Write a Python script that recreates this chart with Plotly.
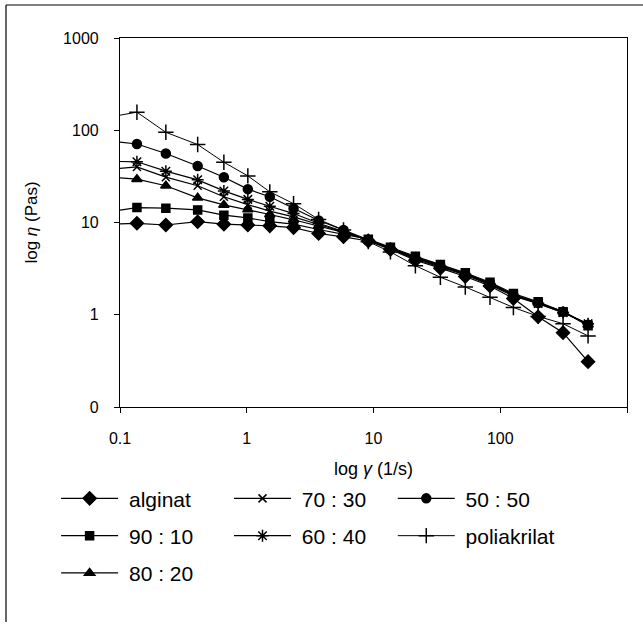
import plotly.graph_objects as go

# shear rate (1/s)
shear_rate = [0.085, 0.136, 0.23, 0.41, 0.66, 1.02, 1.52, 2.34, 3.69, 5.8, 9.1,
              13.6, 21.4, 33.7, 53, 83, 127, 199, 313, 493]

alginat = [9.6, 9.8, 9.4, 10.2, 9.6, 9.4, 9.2, 8.8, 7.6, 7.0, 6.3,
           5.1, 3.9, 3.2, 2.6, 2.05, 1.5, 0.95, 0.64, 0.31]
s90_10 = [13.2, 14.5, 14.3, 13.7, 12.0, 11.2, 10.2, 9.6, 8.4, 7.4, 6.6,
          5.4, 4.3, 3.5, 2.85, 2.25, 1.7, 1.38, 1.08, 0.76]
s80_20 = [31, 29.5, 25, 18.5, 15.5, 13.8, 12.2, 10.7, 9.2, 7.8, 6.5,
          5.3, 4.2, 3.45, 2.8, 2.2, 1.65, 1.35, 1.08, 0.78]
s70_30 = [38, 40, 31, 25, 19, 15.6, 13.3, 11.5, 9.5, 7.9, 6.4,
          5.2, 4.0, 3.3, 2.7, 2.1, 1.6, 1.32, 1.05, 0.8]
s60_40 = [46, 45.5, 36, 29, 22, 17.8, 15, 12.5, 9.8, 8.0, 6.5,
          5.2, 4.1, 3.35, 2.75, 2.15, 1.62, 1.33, 1.06, 0.8]
s50_50 = [76, 71, 56, 41, 31, 23, 19, 14.2, 10.5, 8.3, 6.5,
          5.2, 4.1, 3.4, 2.75, 2.2, 1.64, 1.34, 1.08, 0.78]
poliakrilat = [140, 157, 95, 70, 45, 32, 21.5, 16, 10.8, 8.3, 6.2,
               4.8, 3.4, 2.55, 2.0, 1.55, 1.2, 0.96, 0.8, 0.59]

x_ticks = [0.1, 1, 10, 100, 1000]
x_ticktext = ["0.1", "1", "10", "100", "1000"]
y_ticks = [0.1, 1, 10, 100, 1000]
y_ticktext = ["0", "1", "10", "100", "1000"]

FONT = "Liberation Sans, Arial, sans-serif"
NB = "\u00a0"

series = [
    ("alginat", alginat, "diamond", 10, 1.2, "legend"),
    ("70 : 30", s70_30, "x-thin", 8, 1.2, "legend2"),
    ("50 : 50", s50_50, "circle", 9, 1.2, "legend3"),
    ("90 : 10", s90_10, "square", 8, 1.2, "legend"),
    ("60 : 40", s60_40, "asterisk", 10, 1.2, "legend2"),
    ("poliakrilat", poliakrilat, "cross-thin", 11, 1.0, "legend3"),
    ("80 : 20", s80_20, "triangle-up", 9, 1.2, "legend"),
]

fig = go.Figure()
for name, vals, sym, size, lw, leg in series:
    fig.add_trace(go.Scatter(
        x=shear_rate, y=vals, name=NB + name, mode="lines+markers",
        line=dict(color="black", width=lw),
        marker=dict(symbol=sym, size=size, color="black",
                    line=dict(color="black", width=1.5)),
        legend=leg, legendgroup=name,
    ))

legend_common = dict(
    orientation="v", yanchor="top", xanchor="left",
    font=dict(family=FONT, size=21, color="black"),
    bgcolor="rgba(0,0,0,0)", itemwidth=57, tracegroupgap=7,
)

fig.update_layout(
    width=643, height=629,
    margin=dict(l=120, r=16, t=38, b=222),
    paper_bgcolor="white", plot_bgcolor="white",
    font=dict(family=FONT, size=15, color="black"),
    legend=dict(x=-0.126, y=-0.193, **legend_common),
    legend2=dict(x=0.215, y=-0.193, **legend_common),
    legend3=dict(x=0.538, y=-0.193, **legend_common),
    xaxis=dict(
        type="log", range=[-1, 3], tickvals=x_ticks, ticktext=x_ticktext,
        ticks="outside", ticklen=5, tickcolor="black",
        showline=True, linecolor="black", linewidth=1.2, mirror=True,
        showgrid=False, zeroline=False, ticklabelstandoff=12,
        tickfont=dict(size=16),
        title=dict(text="log <i>γ</i> (1/s)", font=dict(size=18), standoff=16),
    ),
    yaxis=dict(
        type="log", range=[-1, 3], tickvals=y_ticks, ticktext=y_ticktext,
        ticks="outside", ticklen=5, tickcolor="black",
        showline=True, linecolor="black", linewidth=1.2, mirror=True,
        showgrid=False, zeroline=False, ticklabelstandoff=12,
        tickfont=dict(size=16),
        title=dict(text="log <i>η</i> (Pas)", font=dict(size=17), standoff=21),
    ),
    shapes=[
        dict(type="line", xref="paper", yref="paper",
             x0=(6 - 120) / 507, x1=(643 - 120) / 507,
             y0=(407 - 5) / 369, y1=(407 - 5) / 369,
             line=dict(color="black", width=1.2)),
        dict(type="line", xref="paper", yref="paper",
             x0=(6 - 120) / 507, x1=(6 - 120) / 507,
             y0=(407 - 5) / 369, y1=(407 - 622) / 369,
             line=dict(color="black", width=1.2)),
    ],
)

fig.write_html("out.html")
